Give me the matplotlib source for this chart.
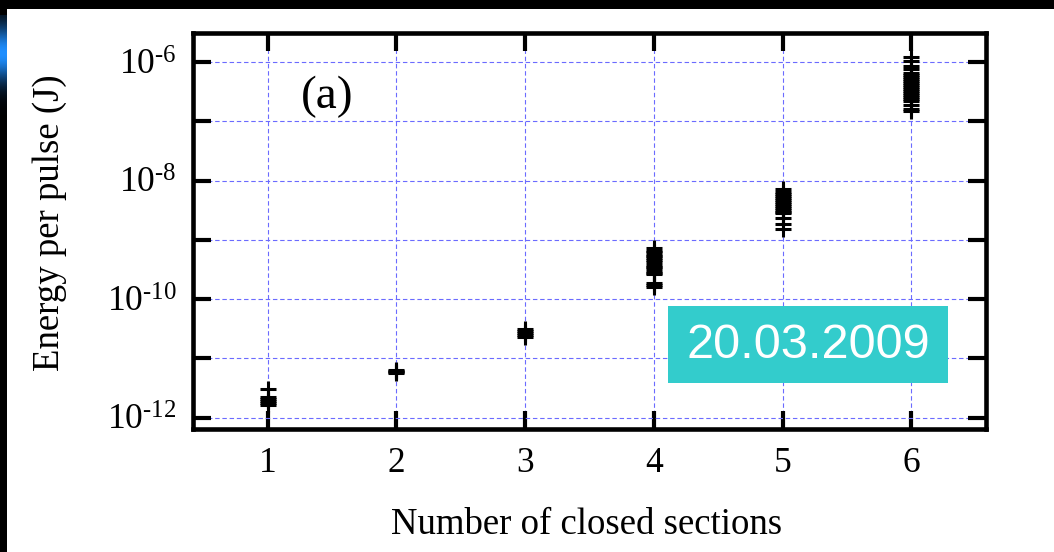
import numpy as np
import matplotlib
matplotlib.use("Agg")
import matplotlib.pyplot as plt
from matplotlib.patches import Rectangle
from matplotlib.ticker import FixedLocator, FuncFormatter, NullLocator

plt.rcParams['font.family'] = ['Liberation Serif', 'DejaVu Serif']
plt.rcParams['mathtext.fontset'] = 'custom'
plt.rcParams['mathtext.rm'] = 'Liberation Serif'
plt.rcParams['mathtext.default'] = 'regular'

# measured pulse energies (J) for each number of closed sections
sections = [1, 2, 3, 4, 5, 6]
energy_1 = [3.1e-12, 2.2e-12, 2.05e-12, 1.9e-12, 1.75e-12, 1.62e-12]
energy_2 = [6.5e-12, 6.2e-12, 5.9e-12, 5.6e-12]
energy_3 = [3.1e-11, 2.9e-11, 2.7e-11, 2.5e-11, 2.3e-11]
energy_4 = [7.2e-10, 6.6e-10, 6.2e-10, 5.6e-10, 5.25e-10, 4.9e-10, 4.5e-10,
            4.2e-10, 3.8e-10, 3.55e-10, 3.3e-10, 3.0e-10, 2.8e-10, 2.63e-10,
            1.84e-10, 1.72e-10, 1.6e-10]
energy_5 = [7.1e-9, 6.5e-9, 6.0e-9, 5.6e-9, 5.1e-9, 4.8e-9, 4.4e-9, 4.1e-9,
            3.8e-9, 3.5e-9, 3.2e-9, 3.0e-9, 2.8e-9, 2.34e-9, 1.82e-9, 1.53e-9]
energy_6 = [1.21e-6, 1.04e-6, 8.7e-7, 7.6e-7, 6.5e-7, 6.0e-7, 5.6e-7, 5.1e-7,
            4.8e-7, 4.4e-7, 4.1e-7, 3.8e-7, 3.5e-7, 3.2e-7, 2.95e-7, 2.75e-7,
            2.57e-7, 2.4e-7, 2.24e-7, 1.85e-7, 1.64e-7, 1.52e-7]
energies = [energy_1, energy_2, energy_3, energy_4, energy_5, energy_6]

decades = [1e-12, 1e-11, 1e-10, 1e-9, 1e-8, 1e-7, 1e-6]
run_date = "20.03.2009"

W, H = 1054, 552
fig = plt.figure(figsize=(W / 100, H / 100), dpi=100, facecolor='white')
ax = fig.add_axes([193 / W, 1 - 429 / H, (986 - 193) / W, (429 - 33) / H])

for n, vals in zip(sections, energies):
    ax.plot([n] * len(vals), vals, linestyle='none', marker='+',
            markersize=11.5, markeredgewidth=2.2, color='black', zorder=3)

ax.set_yscale('log')
ax.set_xlim(0.42, 6.58)
ax.set_ylim(10 ** -12.19, 10 ** -5.51)

ax.set_xticks(sections)
ax.yaxis.set_major_locator(FixedLocator(decades))
ax.yaxis.set_minor_locator(NullLocator())


def dec_label(v, pos):
    e = int(round(np.log10(v)))
    if e % 2:
        return ''
    return r'$10^{\text{-}%d}$' % (-e)


ax.yaxis.set_major_formatter(FuncFormatter(dec_label))

ax.tick_params(which='major', direction='in', length=13, width=3,
               top=True, right=True, labelsize=25.5, color='black')
ax.tick_params(axis='x', pad=13)
ax.tick_params(axis='y', pad=12)
for s in ax.spines.values():
    s.set_linewidth(3.3)

ax.grid(True, which='major', color='#6b6bff', linewidth=0.8,
        linestyle=(0, (4, 2.5)), zorder=1)
ax.set_axisbelow(True)

fig.text(327 / W, 1 - 97 / H, '(a)', fontsize=34, ha='center', va='center')

fig.text(587 / W, 1 - 525 / H, 'Number of closed sections',
         fontsize=26.5, ha='center', va='center')
fig.text(50 / W, 1 - 223 / H, 'Energy per pulse (J)', rotation=90,
         fontsize=26.5, ha='center', va='center')

# date tag
fig.patches.append(Rectangle((668 / W, 1 - 383 / H), 280 / W, 77 / H,
                             transform=fig.transFigure, facecolor='#33cccc',
                             edgecolor='none', zorder=5))
fig.text(808 / W, 1 - 346 / H, run_date, color='white', fontsize=35,
         family='Liberation Sans', ha='center', va='center', zorder=6)

# dark frame along top and left edge
fig.patches.append(Rectangle((0, 1 - 9 / H), 1, 9 / H, transform=fig.transFigure,
                             facecolor='black', edgecolor='none', zorder=5))
fig.patches.append(Rectangle((0, 0), 7 / W, 1, transform=fig.transFigure,
                             facecolor='black', edgecolor='none', zorder=5))
glow = fig.add_axes([0, 1 - 115 / H, 7 / W, 100 / H], zorder=6)
yy = np.linspace(1, 0, 100)[:, None]
profile = np.exp(-((yy - 0.62) / 0.28) ** 2)
img = np.zeros((100, 7, 3))
img[..., 0] = 0.12 * profile
img[..., 1] = 0.56 * profile
img[..., 2] = 1.0 * profile
glow.imshow(img, aspect='auto', interpolation='bilinear')
glow.axis('off')

fig.savefig('out.png', dpi=100, facecolor='white')
